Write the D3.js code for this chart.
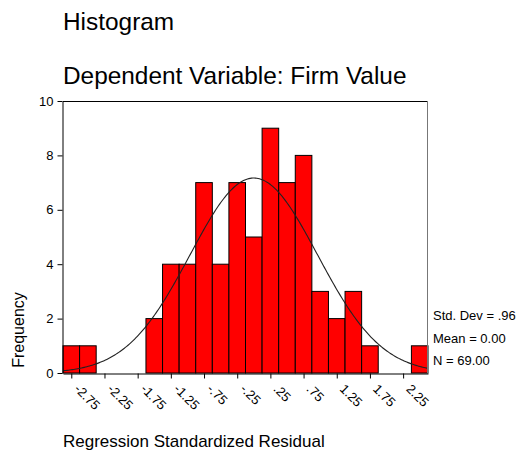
<!DOCTYPE html>
<html lang="en">
<head>
<meta charset="UTF-8">
<script src="https://cdnjs.cloudflare.com/ajax/libs/d3/7.8.5/d3.min.js"></script>
<title>Histogram</title>
<style>
    body { margin: 0; background: #fff; }
    svg { display: block; font-family: "Liberation Sans", Arial, sans-serif; }
    svg text { font-family: "Liberation Sans", Arial, sans-serif; fill: #000; }
</style>
</head>
<body>
<svg id="chart" width="522" height="455"></svg>
<script>
    // bin midpoints (width .25) and counts
    var midpoints = [-2.75, -2.5, -2.25, -2.0, -1.75, -1.5, -1.25, -1.0, -0.75, -0.5, -0.25,
                     0, 0.25, 0.5, 0.75, 1.0, 1.25, 1.5, 1.75, 2.0, 2.25, 2.5];
    var counts = [1, 1, 0, 0, 0, 2, 4, 4, 7, 4, 7, 5, 9, 7, 8, 3, 2, 3, 1, 0, 0, 1];
    var tickValues = [-2.75, -2.25, -1.75, -1.25, -0.75, -0.25, 0.25, 0.75, 1.25, 1.75, 2.25];
    var tickLabels = ["-2.75", "-2.25", "-1.75", "-1.25", "-.75", "-.25", ".25", ".75", "1.25", "1.75", "2.25"];
    var yTicks = [0, 2, 4, 6, 8, 10];
    var stats = ["Std. Dev = .96", "Mean = 0.00", "N = 69.00"];
    var sd = 0.96, mean = 0, n = 69, binWidth = 0.25;

    var plotLeft = 63, plotRight = 428, plotTop = 101, plotBottom = 373;
    var svg = d3.select("#chart");

    var x = d3.scaleLinear().domain([-2.875, 2.625]).range([plotLeft, plotRight]);
    var y = d3.scaleLinear().domain([0, 10]).range([plotBottom, plotTop]);

    // titles
    svg.append("text").attr("x", 63).attr("y", 30)
        .style("font-size", "24.4px").text("Histogram");
    svg.append("text").attr("x", 63).attr("y", 84)
        .style("font-size", "24.4px").text("Dependent Variable: Firm Value");

    // bars
    svg.selectAll("rect.bar")
        .data(counts)
        .enter()
        .append("rect")
            .attr("class", "bar")
            .attr("x", (d, i) => x(midpoints[i] - binWidth / 2))
            .attr("width", x(binWidth) - x(0))
            .attr("y", d => y(d))
            .attr("height", d => y(0) - y(d))
            .style("fill", d => d > 0 ? "#ff0000" : "none")
            .style("stroke", d => d > 0 ? "#000" : "none")
            .style("stroke-width", "1px");

    // normal curve
    var curveXs = d3.range(-2.875, 2.6251, 0.02);
    var line = d3.line()
        .x(d => x(d))
        .y(d => y(n * binWidth / (sd * Math.sqrt(2 * Math.PI)) * Math.exp(-0.5 * Math.pow((d - mean) / sd, 2))));
    svg.append("path")
        .datum(curveXs)
        .attr("d", line)
        .style("fill", "none")
        .style("stroke", "#222")
        .style("stroke-width", "1.1px");

    // frame
    svg.append("line").attr("x1", plotLeft).attr("x2", plotRight).attr("y1", plotTop + 0.5).attr("y2", plotTop + 0.5)
        .style("stroke", "#000");
    svg.append("line").attr("x1", plotRight - 0.5).attr("x2", plotRight - 0.5).attr("y1", plotTop).attr("y2", plotBottom)
        .style("stroke", "#777");

    // y axis
    var yAxis = d3.axisLeft(y).tickValues(yTicks).tickSize(5).tickPadding(4).tickSizeOuter(0);
    var gy = svg.append("g").attr("transform", "translate(" + (plotLeft - 0.5) + ",0)").call(yAxis);
    gy.selectAll("text").style("font-size", "13px").attr("font-family", null);

    // x axis
    var xAxis = d3.axisBottom(x).tickValues(tickValues).tickSize(5).tickSizeOuter(0)
        .tickFormat((d, i) => tickLabels[i]);
    var gx = svg.append("g").attr("transform", "translate(0," + (plotBottom + 0.5) + ")").call(xAxis);
    gx.attr("font-family", null);
    gx.selectAll("text")
        .style("font-size", "13px")
        .style("text-anchor", "start")
        .attr("y", 0).attr("dy", "0.35em")
        .attr("transform", "translate(5,13) rotate(45)");

    // axis titles
    svg.append("text")
        .attr("transform", "translate(24,330) rotate(-90)")
        .style("text-anchor", "middle")
        .style("font-size", "16px")
        .text("Frequency");
    svg.append("text").attr("x", 63).attr("y", 447)
        .style("font-size", "17px").text("Regression Standardized Residual");

    // stats
    svg.selectAll("text.stat")
        .data(stats)
        .enter()
        .append("text")
            .attr("class", "stat")
            .attr("x", 433)
            .attr("y", (d, i) => 320 + i * 22.5)
            .style("font-size", "13px")
            .text(d => d);
</script>
</body>
</html>
